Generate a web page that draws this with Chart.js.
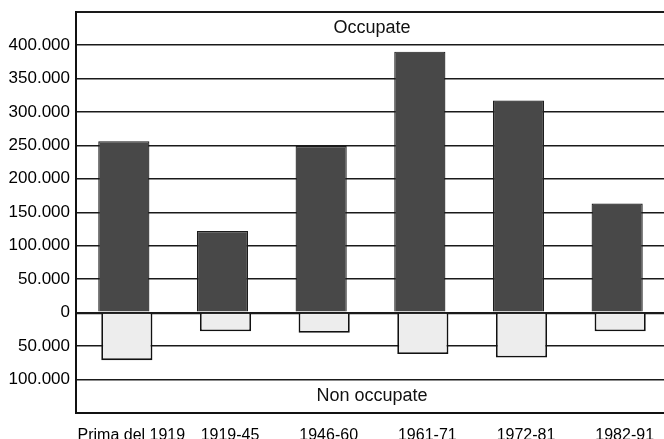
<!DOCTYPE html>
<html>
<head>
<meta charset="utf-8">
<script src="https://cdn.jsdelivr.net/npm/chart.js@4"></script>
<style>
    html, body { margin: 0; padding: 0; background: #fff; overflow: hidden; }
    #wrap { width: 668px; height: 439px; position: relative; }
</style>
</head>
<body>
<div id="wrap"><canvas id="barChart"></canvas></div>
<script>
// periods and dwelling counts
const periods = ['Prima del 1919', '1919-45', '1946-60', '1961-71', '1972-81', '1982-91'];
const occupate = [256000, 122000, 249000, 390000, 317000, 163000];
const nonOccupate = [-71000, -28000, -30000, -62000, -67000, -28000];
const bandLabels = { top: 'Occupate', bottom: 'Non occupate' };

const fontFamily = '"Liberation Sans", Arial, sans-serif';

function formatTick(v) {
    if (v === 450000 || v === -150000) {
        return '';
    }
    return String(Math.abs(v)).replace(/\B(?=(\d{3})+(?!\d))/g, '.');
}

// writes the two band captions inside the plot
const bandText = {
    id: 'bandText',
    afterDatasetsDraw(chart) {
        const {ctx, chartArea, scales} = chart;
        const cx = (chartArea.left + chartArea.right) / 2;
        ctx.save();
        ctx.fillStyle = '#111';
        ctx.font = '18px ' + fontFamily;
        ctx.textAlign = 'center';
        ctx.textBaseline = 'middle';
        ctx.fillText(bandLabels.top, cx, scales.y.getPixelForValue(425000));
        ctx.fillText(bandLabels.bottom, cx, scales.y.getPixelForValue(-125000));
        ctx.restore();
    }
};

const ctx = document.getElementById('barChart').getContext('2d');
const barChart = new Chart(ctx, {
    type: 'bar',
    data: {
        labels: periods,
        datasets: [
            {
                label: 'Occupate',
                data: occupate,
                backgroundColor: '#484848',
                borderColor: '#1c1c1c',
                borderWidth: 1.2,
            },
            {
                label: 'Non occupate',
                data: nonOccupate,
                backgroundColor: '#ededed',
                borderColor: '#111',
                borderWidth: 1.8,
            }
        ]
    },
    options: {
        responsive: true,
        maintainAspectRatio: false,
        animation: false,
        // tiny slots so the two bars overlap with a small shift
        categoryPercentage: 0.061,
        barPercentage: 17,
        layout: {
            padding: {top: 11.5, right: 0, bottom: 0, left: 0}
        },
        plugins: {
            legend: {display: false},
            tooltip: {enabled: false},
        },
        scales: {
            x: {
                grid: {display: false},
                border: {display: true, color: '#111', width: 2},
                ticks: {
                    color: '#000',
                    font: {family: fontFamily, size: 16},
                    padding: 5,
                    labelOffset: 6,
                    maxRotation: 0,
                    autoSkip: false,
                },
                afterFit(scale) {
                    scale.height = 26;
                }
            },
            y: {
                min: -150000,
                max: 450000,
                grid: {
                    color: '#1a1a1a',
                    drawTicks: false,
                    lineWidth: function (c) {
                        if (c.tick.value === 0) return 2.2;
                        if (c.tick.value === 450000 || c.tick.value === -150000) return 2;
                        return 1.5;
                    }
                },
                border: {display: true, color: '#111', width: 2},
                ticks: {
                    stepSize: 50000,
                    color: '#000',
                    font: {family: fontFamily, size: 17},
                    padding: 6,
                    callback: formatTick,
                },
                afterFit(scale) {
                    scale.width = 76;
                    scale.paddingTop = 0;
                    scale.paddingBottom = 0;
                }
            }
        }
    },
    plugins: [bandText]
});
</script>
</body>
</html>
